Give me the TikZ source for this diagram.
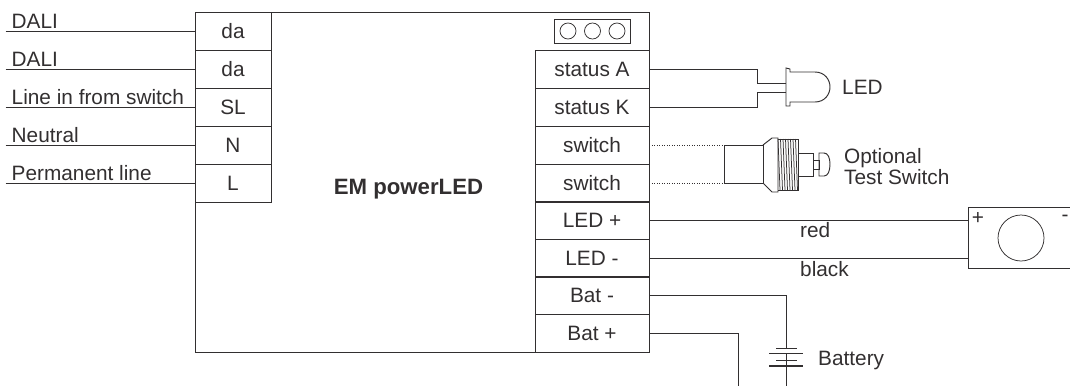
\documentclass[tikz,border=0pt]{standalone}
\usepackage{fontspec}
\setmainfont{Liberation Sans}
\usetikzlibrary{positioning}
\tikzset{
    wire/.style={line width=0.95pt, draw=inkline},
    thinwire/.style={line width=0.75pt, draw=inkline},
    terminal/.style={draw=inkline, line width=0.95pt, minimum height=38pt, inner sep=0pt, text=inkline, font=\fontsize{20.8}{22}\selectfont},
    caption/.style={anchor=base west, inner sep=0pt, text=inkline, font=\fontsize{20.8}{22}\selectfont}
}
\begin{document}
\begin{tikzpicture}[x=1pt, y=-1pt]
    \definecolor{inkline}{RGB}{50,47,48}
    \useasboundingbox (0,0) rectangle (1070,386);

    % housing
    \draw [wire] (195,12) rectangle (649,352);
    \node [anchor=base, text=inkline, font=\fontsize{22.2}{24}\selectfont\bfseries] (title) at (408.5,194) {EM powerLED};

    % programming header
    \draw [wire] (554,19) rectangle (630,43);
    \foreach \x in {568,592.5,617}{
        \draw [thinwire] (\x,31) circle[radius=8pt];
    }

    % mains side
    \foreach \name/\lab/\y in {da1/da/31,da2/da/69,sl/SL/107,n/N/145,l/L/183}{
        \node [terminal, minimum width=76pt] (\name) at (233,\y) {\lab};
    }
    \foreach \name/\lab/\y in {da1/DALI,da2/DALI,sl/Line in from switch,n/Neutral,l/Permanent line}{
        \coordinate [left=189pt of \name.west] (\name end);
        \draw [wire] (\name end) -- (\name.west);
        \node [caption, above right=2pt and 6pt of \name end, anchor=south west] (\name lab) {\lab};
    }

    % output side
    \foreach \name/\lab/\y in {stA/status A/69,stK/status K/107,swA/switch/145,swB/switch/183,ledP/LED +/220,ledM/LED -/258,batM/Bat -/295,batP/Bat +/333}{
        \node [terminal, minimum width=114pt] (\name) at (592,\y) {\lab};
    }

    % led
    \coordinate (ledtop) at (786,83);
    \coordinate (ledbot) at (786,92);
    \draw [wire] (stA.east) -- (757,69) -- (757,83) -- (ledtop);
    \draw [wire] (stK.east) -- (757,107) -- (757,92) -- (ledbot);
    \draw [wire] (786,68) -- (790,69) -- (790,72) -- (815,72) .. controls (825,72) and (830,80) .. (830,87)
        .. controls (830,94) and (825,102) .. (815,102) -- (790,102) -- (790,106) -- (786,106) -- cycle;
    \node [caption] (ledlab) at (842,94.5) {LED};

    % test switch
    \coordinate (swtop) at (724,145);
    \coordinate (swbot) at (724,183);
    \draw [line width=1pt, draw=inkline, dash pattern=on 1pt off 1.5pt] (swA.east) -- (swtop);
    \draw [line width=1pt, draw=inkline, dash pattern=on 1pt off 1.5pt] (swB.east) -- (swbot);
    \draw [wire] (swtop) -- (763,145) -- (763,183) -- (swbot) -- cycle;
    \draw [wire] (763,145) -- (772,138) -- (778,138) -- (778,192) -- (772,192) -- (763,183);
    \foreach \x in {778,780.5,...,796}{
        \draw [thinwire] (\x,139) -- (\x + 2,190);
    }
    \draw [wire] (778,139) -- (798,139) -- (798,190) -- (778,190);
    \draw [wire] (798,153) -- (813,153) -- (813,176) -- (798,176);
    \draw [wire] (813,160) rectangle (819,169);
    \draw [wire] (819,153) -- (824,153) .. controls (828,153) and (830,158) .. (830,164)
        .. controls (830,171) and (828,176) .. (824,176) -- (819,176) -- cycle;
    \node [caption] (optlab) at (844,163) {Optional};
    \node [caption] (testlab) at (844,184) {Test Switch};

    % lamp module
    \draw [wire] (1071,207) -- (968,207) -- (968,268) -- (1071,268);
    \coordinate (modP) at (968,220);
    \coordinate (modM) at (968,258);
    \draw [wire] (ledP.east) -- (modP);
    \draw [wire] (ledM.east) -- (modM);
    \node [caption] (redlab) at (800,237.5) {red};
    \node [caption] (blacklab) at (800,276.5) {black};
    \draw [thinwire] (1021,238) circle[radius=23pt];
    \node [text=inkline, inner sep=0pt, font=\fontsize{20.8}{22}\selectfont] (modplus) at (978,218) {+};
    \node [text=inkline, inner sep=0pt, font=\fontsize{20.8}{22}\selectfont] (modminus) at (1065,218) {-};

    % battery
    \coordinate (cellA) at (786,348);
    \coordinate (cellB) at (786,366);
    \coordinate (batout) at (786,386);
    \coordinate (batPout) at (738,386);
    \draw [wire] (batM.east) -- (786,295) -- (cellA);
    \draw [wire] (cellB) -- (batout);
    \draw [wire] (786,353) -- (786,366);
    \draw [wire] (batP.east) -- (738,333) -- (batPout);
    \draw [thinwire] (776,348) -- (797,348);
    \draw [line width=1.8pt, draw=inkline] (769,353.5) -- (803,353.5);
    \draw [thinwire] (776,360) -- (797,360);
    \draw [line width=1.8pt, draw=inkline] (769,366) -- (803,366);
    \node [caption] (batlab) at (818,365) {Battery};
\end{tikzpicture}
\end{document}
